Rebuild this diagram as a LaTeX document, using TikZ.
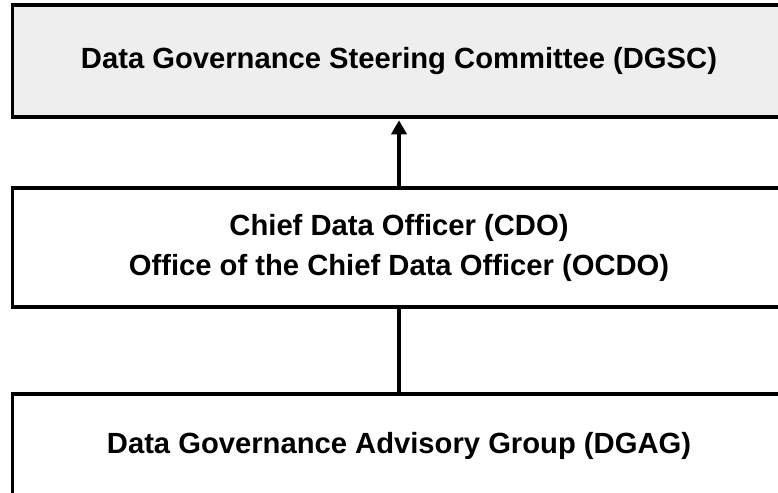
\documentclass[tikz,border=0pt]{standalone}
\usepackage{fontspec}
\setmainfont{Liberation Sans}
\usetikzlibrary{arrows.meta}
\definecolor{boxgray}{HTML}{EEEEEE}
\tikzset{
  box/.style={draw=black, line width=3.5pt, rectangle, inner sep=0pt,
    minimum width=773pt, align=center,
    font=\fontsize{29.2pt}{40pt}\selectfont\bfseries},
  link/.style={draw=black, line width=3.5pt},
}
\begin{document}
\begin{tikzpicture}[x=1pt,y=-1pt]
\useasboundingbox (0,0) rectangle (778,492);
\clip (0,0) rectangle (778,492);
\node[box, fill=boxgray, minimum height=112pt] (dgsc) at (399,61) {Data Governance Steering Committee (DGSC)};
\node[box, fill=white, minimum height=119pt] (cdo) at (399,247.5) {Chief Data Officer (CDO)\\Office of the Chief Data Officer (OCDO)};
\node[box, fill=white, minimum height=103pt] (dgag) at (399,445.5) {Data Governance Advisory Group (DGAG)};
\draw[link, -{Triangle[length=14pt,width=15pt]}, shorten >=1.5pt] (cdo.north) -- (dgsc.south);
\draw[link] (dgag.north) -- (cdo.south);
\end{tikzpicture}
\end{document}
